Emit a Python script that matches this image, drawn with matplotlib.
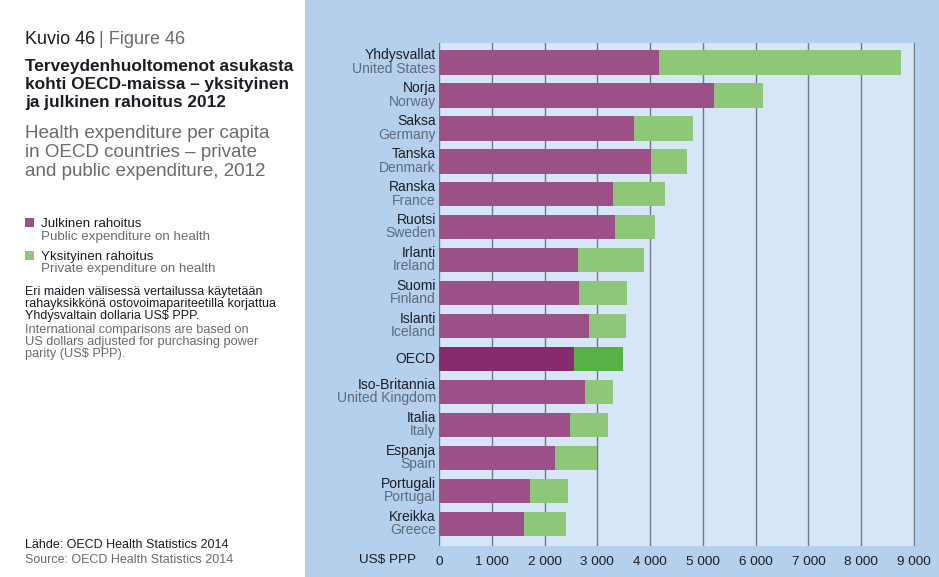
import matplotlib
matplotlib.use("Agg")
import matplotlib.pyplot as plt
from matplotlib.patches import Rectangle

plt.rcParams['font.family'] = ['Liberation Sans', 'DejaVu Sans']

# data (US$ PPP per capita, 2012)
names_fi = ['Yhdysvallat', 'Norja', 'Saksa', 'Tanska', 'Ranska', 'Ruotsi', 'Irlanti',
            'Suomi', 'Islanti', 'OECD', 'Iso-Britannia', 'Italia', 'Espanja',
            'Portugali', 'Kreikka']
names_en = ['United States', 'Norway', 'Germany', 'Denmark', 'France', 'Sweden', 'Ireland',
            'Finland', 'Iceland', '', 'United Kingdom', 'Italy', 'Spain',
            'Portugal', 'Greece']
public = [4160, 5220, 3690, 4010, 3300, 3340, 2625, 2660, 2850, 2550, 2770, 2490, 2190, 1715, 1610]
private = [4590, 920, 1130, 690, 990, 760, 1265, 900, 685, 940, 520, 720, 810, 735, 805]
xticks = [0, 1000, 2000, 3000, 4000, 5000, 6000, 7000, 8000, 9000]
xtick_labels = ['0', '1 000', '2 000', '3 000', '4 000', '5 000', '6 000', '7 000', '8 000', '9 000']

PURPLE = '#9b5088'
GREEN = '#8dc878'
PURPLE_OECD = '#862b6c'
GREEN_OECD = '#56b146'
OUTER_BG = '#b4d0ec'
INNER_BG = '#d7e6f6'
GRID = '#6f7a88'
DARK = '#1c1c24'
GREY = '#6b6b6b'
LABEL_GREY = '#5c6b7c'

fig = plt.figure(figsize=(9.39, 5.77), dpi=100)
fig.patch.set_facecolor('white')
fig.patches.append(Rectangle((305 / 939, 0), 1 - 305 / 939, 1, transform=fig.transFigure,
                             facecolor=OUTER_BG, edgecolor='none', zorder=-5))

ax = fig.add_axes([439 / 939, 31 / 577, 476 / 939, 503 / 577])
ax.set_zorder(2)
ax.set_facecolor(INNER_BG)

y = list(range(len(names_fi)))
pub_colors = [PURPLE_OECD if n == 'OECD' else PURPLE for n in names_fi]
priv_colors = [GREEN_OECD if n == 'OECD' else GREEN for n in names_fi]
ax.barh(y, public, height=0.74, color=pub_colors, zorder=3)
ax.barh(y, private, left=public, height=0.74, color=priv_colors, zorder=3)

ax.set_xlim(0, 9020)
ax.set_ylim(len(names_fi) - 1 + 0.67, -0.59)
ax.set_xticks(xticks)
ax.set_xticklabels(xtick_labels, fontsize=9.7, color=DARK)
ax.tick_params(axis='x', length=0, pad=7)
ax.set_yticks([])
ax.xaxis.grid(True, color=GRID, linewidth=1.0, zorder=1)
ax.set_axisbelow(True)
for s in ax.spines.values():
    s.set_visible(False)

# two-line category labels (Finnish over English)
for i, (fi, en) in enumerate(zip(names_fi, names_en)):
    if en:
        ax.text(-60, i - 0.09, fi, ha='right', va='baseline', fontsize=10, color=DARK)
        ax.text(-60, i + 0.31, en, ha='right', va='baseline', fontsize=10, color=LABEL_GREY)
    else:
        ax.text(-60, i, fi, ha='right', va='center', fontsize=10, color=DARK)

fig.text(416 / 939, 1 - 560 / 577, 'US$ PPP', ha='right', va='center', fontsize=9.7, color=DARK)

# left text panel
x0 = 25 / 939
def ftxt(ypx, s, x=x0, **kw):
    fig.text(x, 1 - ypx / 577, s, va='baseline', ha='left', **kw)

ftxt(44, 'Kuvio 46', fontsize=13, color=DARK)
ftxt(44, '| Figure 46', x=99 / 939, fontsize=13, color=GREY)

for k, line in enumerate(['Terveydenhuoltomenot asukasta',
                          'kohti OECD-maissa – yksityinen',
                          'ja julkinen rahoitus 2012']):
    ftxt(71 + k * 18, line, fontsize=12.4, color=DARK, fontweight='bold')
for k, line in enumerate(['Health expenditure per capita',
                          'in OECD countries – private',
                          'and public expenditure, 2012']):
    ftxt(138 + k * 19, line, fontsize=13.5, color=GREY)

# legend
fig.patches.append(Rectangle((25 / 939, 1 - 227 / 577), 9 / 939, 9 / 577, transform=fig.transFigure,
                             facecolor=PURPLE, edgecolor='none'))
ftxt(227, 'Julkinen rahoitus', x=41 / 939, fontsize=9.6, color=DARK)
ftxt(240, 'Public expenditure on health', x=41 / 939, fontsize=9.6, color=GREY)
fig.patches.append(Rectangle((25 / 939, 1 - 260 / 577), 9 / 939, 9 / 577, transform=fig.transFigure,
                             facecolor=GREEN, edgecolor='none'))
ftxt(260, 'Yksityinen rahoitus', x=41 / 939, fontsize=9.6, color=DARK)
ftxt(272, 'Private expenditure on health', x=41 / 939, fontsize=9.6, color=GREY)

for k, line in enumerate(['Eri maiden välisessä vertailussa käytetään',
                          'rahayksikkönä ostovoimapariteetilla korjattua',
                          'Yhdysvaltain dollaria US$ PPP.']):
    ftxt(295 + k * 12.2, line, fontsize=9, color=DARK)
for k, line in enumerate(['International comparisons are based on',
                          'US dollars adjusted for purchasing power',
                          'parity (US$ PPP).']):
    ftxt(333.5 + k * 12, line, fontsize=9.2, color=GREY)

ftxt(548, 'Lähde: OECD Health Statistics 2014', fontsize=9, color=DARK)
ftxt(563, 'Source: OECD Health Statistics 2014', fontsize=9, color=GREY)

fig.savefig('out.png', dpi=100, facecolor=fig.get_facecolor())
